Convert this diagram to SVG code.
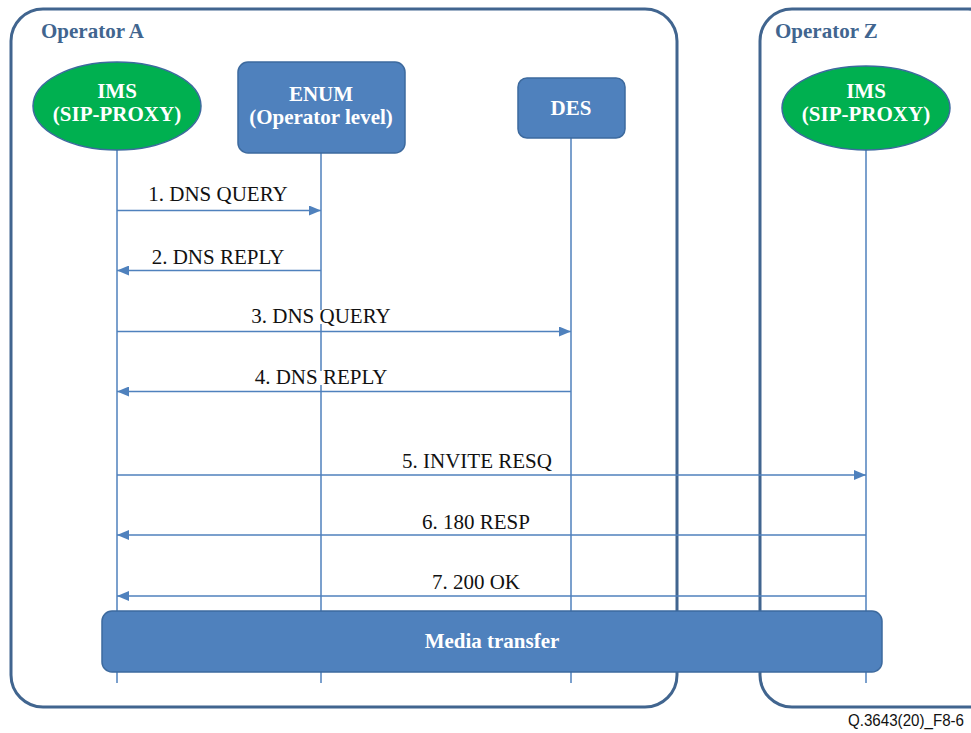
<svg xmlns="http://www.w3.org/2000/svg" width="971" height="733" viewBox="0 0 971 733">
<defs>
<style>
.op{fill:none;stroke:#41658f;stroke-width:3}
.opt{font-weight:bold;font-size:21px;fill:#41658f}
.life{stroke:#4f81bd;stroke-width:1.5;fill:none}
.msg{stroke:#4f81bd;stroke-width:1.5;fill:none}
.lbl{font-size:21px;fill:#111;text-anchor:middle}
.nt{font-weight:bold;font-size:21px;fill:#fff;text-anchor:middle}
.box{fill:#4f81bd;stroke:#3d6a9e;stroke-width:1.5}
.ell{fill:#00b050;stroke:#3d6a9e;stroke-width:1.5}
.gap{fill:#fff}
</style>
<marker id="ah" viewBox="0 0 12 10" refX="12" refY="5" markerWidth="12" markerHeight="10" markerUnits="userSpaceOnUse" orient="auto">
<path d="M0,0 L12,5 L0,10 z" fill="#4f81bd"/>
</marker>
</defs>
<rect width="971" height="733" fill="#fff"/>
<g font-family="Liberation Serif, DejaVu Serif, serif">
<g id="operatorA">
<rect class="op" x="11" y="9" width="666" height="698" rx="32"/>
<text class="opt" x="41" y="38">Operator A</text>
</g>
<g id="operatorZ">
<rect class="op" x="760" y="9" width="240" height="698" rx="32"/>
<text class="opt" x="775" y="38">Operator Z</text>
</g>
<g id="lifelines">
<line class="life" x1="117" y1="150" x2="117" y2="683"/>
<line class="life" x1="321" y1="153" x2="321" y2="683"/>
<line class="life" x1="571" y1="138" x2="571" y2="683"/>
<line class="life" x1="866" y1="150" x2="866" y2="683"/>
<rect class="gap" x="319" y="310" width="4" height="14"/>
<rect class="gap" x="319" y="371" width="4" height="14"/>
</g>
<g id="ims-a">
<ellipse class="ell" cx="117" cy="106" rx="84" ry="44"/>
<text class="nt" x="117" y="98">IMS</text>
<text class="nt" x="117" y="121">(SIP-PROXY)</text>
</g>
<g id="enum">
<rect class="box" x="238" y="62" width="167" height="91" rx="10"/>
<text class="nt" x="321" y="101">ENUM</text>
<text class="nt" x="321" y="124">(Operator level)</text>
</g>
<g id="des">
<rect class="box" x="518" y="78" width="107" height="60" rx="9"/>
<text class="nt" x="571" y="115">DES</text>
</g>
<g id="ims-z">
<ellipse class="ell" cx="866" cy="108" rx="84" ry="42"/>
<text class="nt" x="866" y="98">IMS</text>
<text class="nt" x="866" y="121">(SIP-PROXY)</text>
</g>
<g id="connectors">
<line class="msg" x1="117" y1="210.5" x2="321" y2="210.5" marker-end="url(#ah)"/>
<line class="msg" x1="321" y1="270.5" x2="117" y2="270.5" marker-end="url(#ah)"/>
<line class="msg" x1="117" y1="331.5" x2="571" y2="331.5" marker-end="url(#ah)"/>
<line class="msg" x1="571" y1="391.5" x2="117" y2="391.5" marker-end="url(#ah)"/>
<line class="msg" x1="117" y1="475" x2="866" y2="475" marker-end="url(#ah)"/>
<line class="msg" x1="866" y1="535" x2="117" y2="535" marker-end="url(#ah)"/>
<line class="msg" x1="866" y1="596" x2="117" y2="596" marker-end="url(#ah)"/>
<text class="lbl" x="218" y="201">1. DNS QUERY</text>
<text class="lbl" x="218" y="264">2. DNS REPLY</text>
<text class="lbl" x="321" y="323">3. DNS QUERY</text>
<text class="lbl" x="321" y="384">4. DNS REPLY</text>
<text class="lbl" x="477" y="468">5. INVITE RESQ</text>
<text class="lbl" x="476" y="529">6. 180 RESP</text>
<text class="lbl" x="476" y="589">7. 200 OK</text>
</g>
<g id="media">
<rect class="box" x="102" y="611" width="780" height="61" rx="10"/>
<text class="nt" x="492" y="648">Media transfer</text>
</g>
</g>
<text x="848" y="726" font-family="Liberation Sans, sans-serif" font-size="16" fill="#111" textLength="116" lengthAdjust="spacingAndGlyphs">Q.3643(20)_F8-6</text>
</svg>
